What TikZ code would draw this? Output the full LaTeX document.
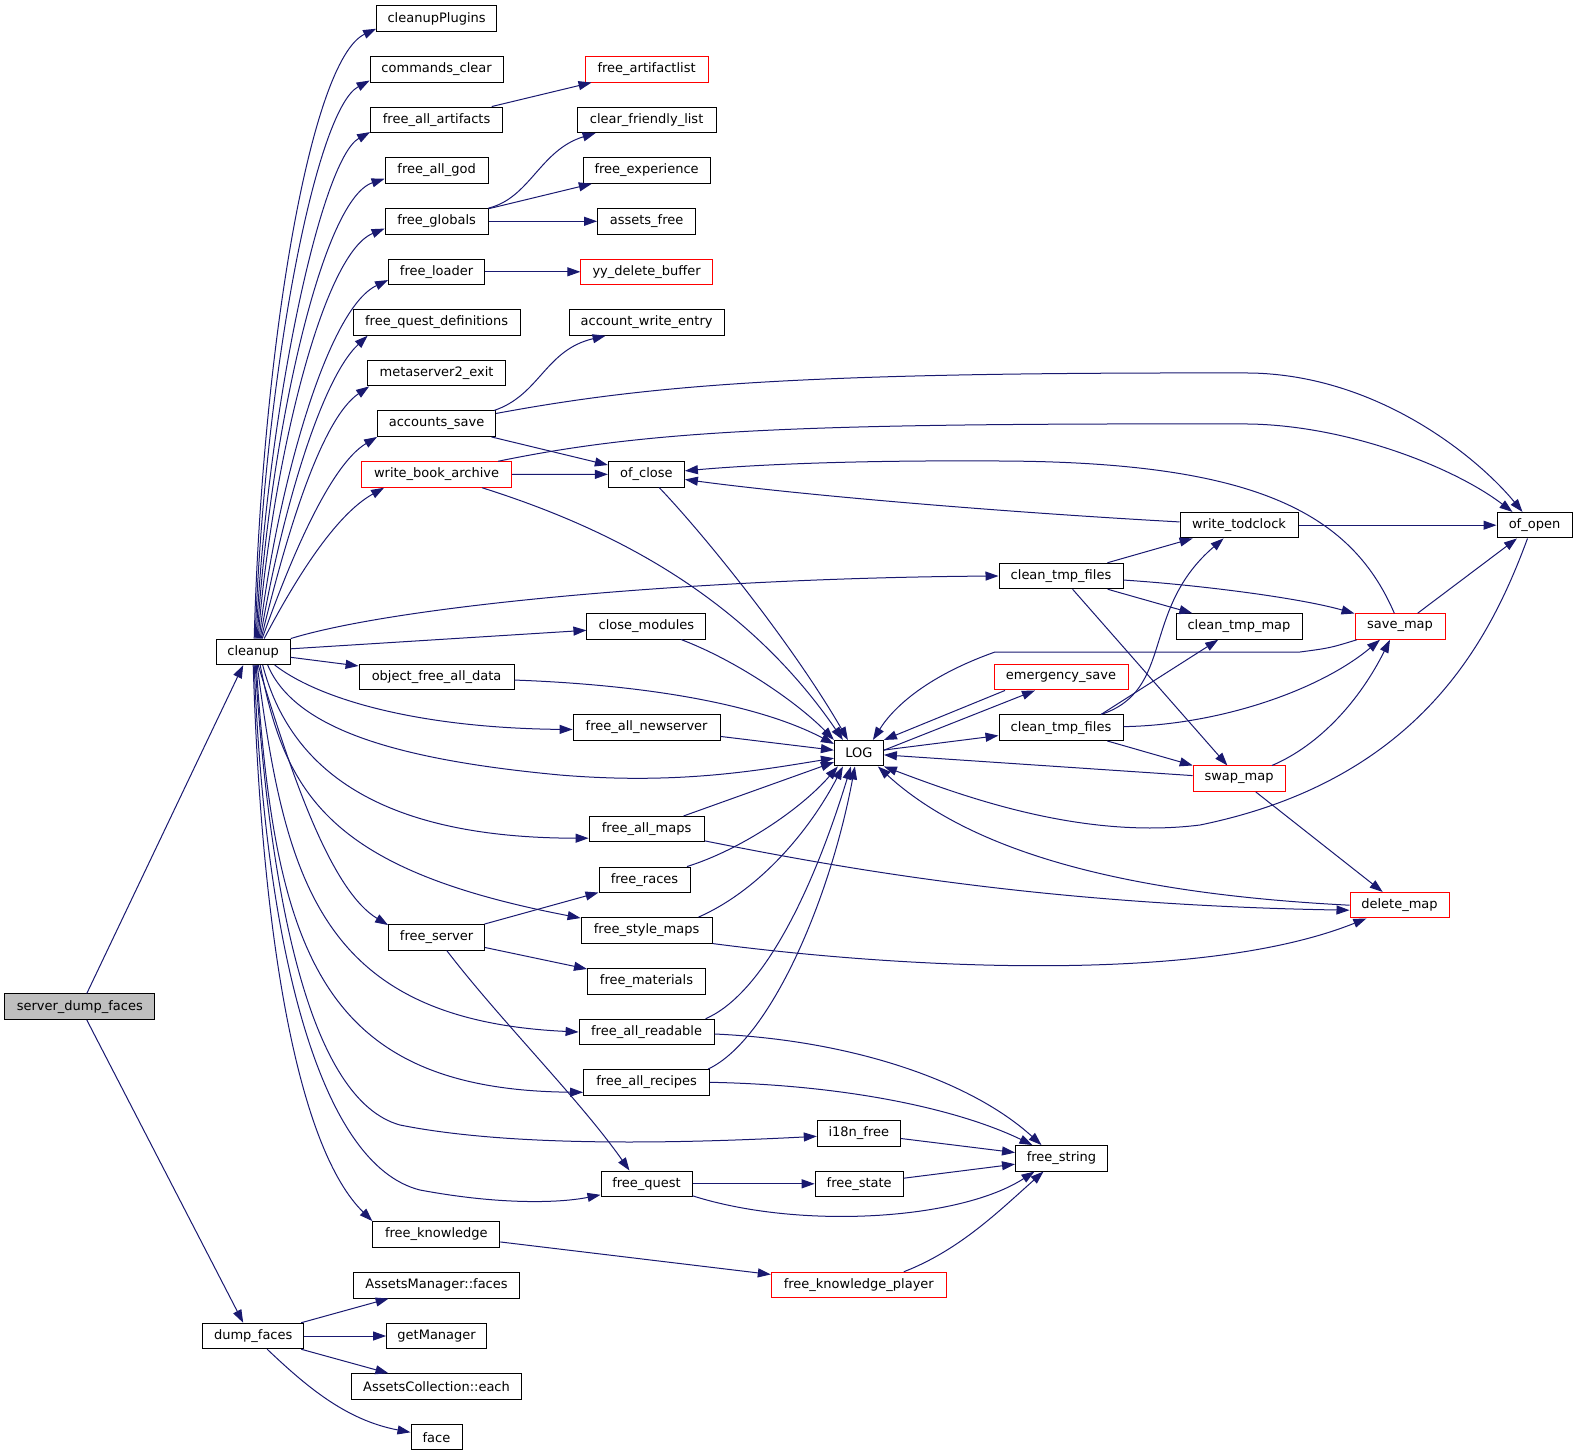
\documentclass[tikz,border=0pt]{standalone}
\usepackage{fontspec}
\setmainfont{DejaVu Sans}
\usetikzlibrary{arrows.meta}
\definecolor{edgec}{HTML}{191970}
\definecolor{rootfill}{HTML}{BFBFBF}
\begin{document}
\begin{tikzpicture}[x=1pt,y=-1pt,
  box/.style={draw=black, line width=1pt, fill=white, rectangle, inner sep=0pt,
    minimum height=25.5pt, font=\fontsize{13}{15.6}\selectfont, text=black},
  rbox/.style={box, draw=red},
  e/.style={draw=edgec, line width=1pt, -{Triangle[length=13pt,width=9pt]}}]
\useasboundingbox (0,0) rectangle (1577,1456);

% ---- nodes ----
\node[box, fill=rootfill, minimum width=150] (sdf) at (79.8,1006.7) {server\_dump\_faces};
\node[box, minimum width=74] (cleanup) at (253.2,651.8) {cleanup};
\node[box, minimum width=101] (dumpfaces) at (253.2,1336) {dump\_faces};

\node[box, minimum width=120] (cleanupPlugins) at (436.6,18.5) {cleanupPlugins};
\node[box, minimum width=133] (commandsClear) at (436.6,69.3) {commands\_clear};
\node[box, minimum width=132] (freeAllArtifacts) at (436.6,119.8) {free\_all\_artifacts};
\node[box, minimum width=103] (freeAllGod) at (436.6,170.5) {free\_all\_god};
\node[box, minimum width=103] (freeGlobals) at (436.6,221.3) {free\_globals};
\node[box, minimum width=96] (freeLoader) at (436.6,271.8) {free\_loader};
\node[box, minimum width=167] (freeQuestDefs) at (436.6,322.5) {free\_quest\_definitions};
\node[box, minimum width=138] (metaserver) at (436.6,373.2) {metaserver2\_exit};
\node[box, minimum width=118] (accountsSave) at (436.6,423.7) {accounts\_save};
\node[rbox, minimum width=150] (writeBook) at (436.6,474.5) {write\_book\_archive};
\node[box, minimum width=155] (objectFree) at (436.6,677.2) {object\_free\_all\_data};
\node[box, minimum width=96] (freeServer) at (436.6,937.3) {free\_server};
\node[box, minimum width=127] (freeKnowledge) at (436.3,1234.3) {free\_knowledge};
\node[box, minimum width=166] (amFaces) at (436.5,1285.3) {AssetsManager::faces};
\node[box, minimum width=100] (getManager) at (436.6,1336) {getManager};
\node[box, minimum width=170] (acEach) at (436.5,1386.5) {AssetsCollection::each};
\node[box, minimum width=51] (face) at (436.5,1437.2) {face};

\node[rbox, minimum width=123] (freeArtifactlist) at (646.6,69.3) {free\_artifactlist};
\node[box, minimum width=139] (clearFriendly) at (646.6,119.8) {clear\_friendly\_list};
\node[box, minimum width=127] (freeExperience) at (646.6,170.5) {free\_experience};
\node[box, minimum width=98] (assetsFree) at (646.6,221.3) {assets\_free};
\node[rbox, minimum width=131.5] (yyDelete) at (646.6,271.8) {yy\_delete\_buffer};
\node[box, minimum width=155] (accountWrite) at (646.6,322.5) {account\_write\_entry};
\node[box, minimum width=76] (ofClose) at (646.4,474.3) {of\_close};
\node[box, minimum width=119] (closeModules) at (646.4,626.3) {close\_modules};
\node[box, minimum width=147] (freeAllNewserver) at (646.6,727.5) {free\_all\_newserver};
\node[box, minimum width=115] (freeAllMaps) at (646.6,829.2) {free\_all\_maps};
\node[box, minimum width=91] (freeRaces) at (644.5,879.8) {free\_races};
\node[box, minimum width=131] (freeStyleMaps) at (646.6,930.3) {free\_style\_maps};
\node[box, minimum width=118] (freeMaterials) at (646.5,981.5) {free\_materials};
\node[box, minimum width=135] (freeAllReadable) at (646.6,1032) {free\_all\_readable};
\node[box, minimum width=126] (freeAllRecipes) at (646.6,1082.3) {free\_all\_recipes};
\node[box, minimum width=91] (freeQuest) at (646.5,1183.8) {free\_quest};

\node[box, minimum width=49] (LOG) at (858.9,753.2) {LOG};
\node[box, minimum width=83] (i18nFree) at (858.8,1133.3) {i18n\_free};
\node[box, minimum width=88] (freeState) at (859.2,1183.8) {free\_state};
\node[rbox, minimum width=175] (freeKnowledgePlayer) at (858.8,1285) {free\_knowledge\_player};

\node[box, minimum width=124] (cleanTmpA) at (1061,576) {clean\_tmp\_files};
\node[rbox, minimum width=134] (emergencySave) at (1061,677.2) {emergency\_save};
\node[box, minimum width=124] (cleanTmpB) at (1061,727.7) {clean\_tmp\_files};
\node[box, minimum width=92] (freeString) at (1061.5,1158.3) {free\_string};

\node[box, minimum width=118] (writeTodclock) at (1239,525.2) {write\_todclock};
\node[box, minimum width=126] (cleanTmpMap) at (1239,626.5) {clean\_tmp\_map};
\node[rbox, minimum width=92] (swapMap) at (1239,778.7) {swap\_map};

\node[rbox, minimum width=90] (saveMap) at (1400,626.5) {save\_map};
\node[rbox, minimum width=99] (deleteMap) at (1399.5,905.2) {delete\_map};
\node[box, minimum width=75] (ofOpen) at (1534.5,525.2) {of\_open};

% ---- edges ----
\draw[e] ([xshift=7]sdf.north) -- ([xshift=-10]cleanup.south);
\draw[e] ([xshift=7]sdf.south) -- ([xshift=-10]dumpfaces.north);

% cleanup upward bundle
\draw[e] ([xshift=1]cleanup.north) .. controls (262,350) and (310,60) .. ([yshift=3]cleanupPlugins.south west);
\draw[e] ([xshift=2]cleanup.north) .. controls (264,380) and (315,110) .. ([yshift=2]commandsClear.south west);
\draw[e] ([xshift=3]cleanup.north) .. controls (266,420) and (320,160) .. ([yshift=1]freeAllArtifacts.south west);
\draw[e] ([xshift=4]cleanup.north) .. controls (268,450) and (320,200) .. ([yshift=5]freeAllGod.south west);
\draw[e] ([xshift=5]cleanup.north) .. controls (270,480) and (320,255) .. ([yshift=6]freeGlobals.south west);
\draw[e] ([xshift=6]cleanup.north) .. controls (275,500) and (325,310) .. ([yshift=5]freeLoader.south west);
\draw[e] ([xshift=7]cleanup.north) .. controls (280,520) and (320,380) .. ([xshift=15]freeQuestDefs.south west);
\draw[e] ([xshift=8]cleanup.north) .. controls (285,540) and (320,420) .. ([xshift=2]metaserver.south west);
\draw[e] ([xshift=9]cleanup.north) .. controls (290,560) and (330,465) .. (accountsSave.south west);
\draw[e] ([xshift=11]cleanup.north) .. controls (295,580) and (335,515) .. ([xshift=23]writeBook.south west);

% cleanup right and downward
\draw[e] (cleanup.north east) .. controls (400,605) and (700,578) .. (cleanTmpA.west);
\draw[e] ([yshift=3]cleanup.east) -- ([yshift=-4]closeModules.west);
\draw[e] ([yshift=-5.5]cleanup.east) -- ([yshift=-2]objectFree.north west);
\draw[e] ([xshift=-16]cleanup.south east) .. controls (320,700) and (420,728) .. ([yshift=-2]freeAllNewserver.west);
\draw[e] ([xshift=-23]cleanup.south east) .. controls (295,730) and (400,760) .. (560,775) .. controls (680,785) and (760,770) .. ([yshift=-5]LOG.west);
\draw[e] ([xshift=-28]cleanup.south east) .. controls (290,770) and (380,838) .. ([yshift=-9]freeAllMaps.west);
\draw[e] ([xshift=7]cleanup.south) .. controls (285,795) and (330,870) .. ([yshift=-1]freeStyleMaps.north west);
\draw[e] ([xshift=5]cleanup.south) .. controls (290,770) and (330,890) .. ([yshift=-1]freeServer.north west);
\draw[e] ([xshift=4]cleanup.south) .. controls (285,880) and (320,1020) .. (freeAllReadable.west);
\draw[e] ([xshift=3]cleanup.south) .. controls (275,950) and (320,1090) .. ([yshift=-10]freeAllRecipes.west);
\draw[e] ([xshift=2]cleanup.south) .. controls (270,900) and (310,1100) .. (400,1125) .. controls (500,1145) and (650,1145) .. ([yshift=-3]i18nFree.west);
\draw[e] ([xshift=1]cleanup.south) .. controls (265,950) and (320,1165) .. (420,1190) .. controls (500,1205) and (560,1203) .. ([yshift=-11]freeQuest.west);
\draw[e] (cleanup.south) .. controls (262,950) and (300,1150) .. (freeKnowledge.north west);

% column 2 to column 3
\draw[e] (freeAllArtifacts) -- (freeArtifactlist);
\draw[e] (freeGlobals.north east) .. controls (530,198) and (540,150) .. ([xshift=19]clearFriendly.south west);
\draw[e] (freeGlobals) -- (freeExperience);
\draw[e] (freeGlobals) -- (assetsFree);
\draw[e] (freeLoader) -- (yyDelete);
\draw[e] ([xshift=-2]accountsSave.north east) .. controls (540,395) and (545,350) .. ([xshift=37]accountWrite.south west);
\draw[e] ([yshift=-3]accountsSave.north east) .. controls (650,385) and (800,372) .. (1250,373) .. controls (1380,375) and (1480,460) .. ([xshift=-12]ofOpen.north);
\draw[e] (accountsSave) -- (ofClose);
\draw[e] ([xshift=-14]writeBook.north east) .. controls (650,430) and (800,423) .. (1250,424) .. controls (1350,426) and (1455,468) .. ([xshift=-22]ofOpen.north);
\draw[e] (writeBook) -- (ofClose);
\draw[e] ([xshift=-30]writeBook.south east) .. controls (600,525) and (740,590) .. ([xshift=-16]LOG.north);
\draw[e] (ofClose) .. controls (700,530) and (790,640) .. ([xshift=-11]LOG.north);

% into LOG from the left
\draw[e] (closeModules) .. controls (740,662) and (800,705) .. (LOG.north west);
\draw[e] (objectFree) .. controls (650,685) and (760,705) .. ([yshift=-4]LOG.north west);
\draw[e] (freeAllNewserver) -- (LOG);
\draw[e] (freeAllMaps) -- (LOG);
\draw[e] (freeRaces) .. controls (740,850) and (800,810) .. ([xshift=-21]LOG.south);
\draw[e] ([xshift=52]freeStyleMaps.north) .. controls (760,890) and (810,830) .. ([xshift=-16]LOG.south);
\draw[e] ([xshift=-9]freeAllReadable.north east) .. controls (760,995) and (810,900) .. ([xshift=-8]LOG.south);
\draw[e] ([xshift=-2]freeAllRecipes.north east) .. controls (770,1040) and (830,900) .. ([xshift=-4]LOG.south);

% LOG right side
\draw[e] ([yshift=3]LOG.east) -- ([xshift=-26]emergencySave.south);
\draw[e] ([xshift=-56]emergencySave.south) -- (LOG.north east);
\draw[e] (LOG) -- (cleanTmpB);
\draw[e] (swapMap) -- (LOG);
\draw[e] (saveMap) .. controls (1330,648) .. (1300,652) -- (995,652) .. controls (930,675) and (895,705) .. ([xshift=14]LOG.north);
\draw[e] (deleteMap.west) .. controls (1150,895) and (980,860) .. ([xshift=19]LOG.south);
\draw[e] ([xshift=-7]ofOpen.south) .. controls (1490,640) and (1420,780) .. (1200,825) .. controls (1080,840) and (960,795) .. (LOG.south east);

% right cluster
\draw[e] (cleanTmpA) -- (writeTodclock);
\draw[e] (cleanTmpA) .. controls (1200,585) and (1300,598) .. (saveMap);
\draw[e] (cleanTmpA) -- (cleanTmpMap);
\draw[e] (cleanTmpA) -- (swapMap);
\draw[e] (writeTodclock) .. controls (1000,512) and (800,495) .. (ofClose);
\draw[e] (writeTodclock) -- (ofOpen);
\draw[e] (saveMap) .. controls (1350,510) and (1250,462) .. (1000,461) .. controls (850,460) and (750,465) .. (ofClose);
\draw[e] (saveMap) -- (ofOpen);
\draw[e] (cleanTmpB) .. controls (1175,690) and (1140,610) .. (writeTodclock);
\draw[e] ([xshift=40]cleanTmpB.north) -- (cleanTmpMap);
\draw[e] (cleanTmpB) .. controls (1220,725) and (1320,690) .. ([xshift=-20]saveMap.south);
\draw[e] (cleanTmpB) -- (swapMap);
\draw[e] ([xshift=33]swapMap.north) .. controls (1320,745) and (1360,700) .. ([xshift=-10]saveMap.south);
\draw[e] (swapMap) -- (deleteMap);
\draw[e] (freeAllMaps) .. controls (850,870) and (1050,905) .. ([yshift=-5]deleteMap.west);
\draw[e] (freeStyleMaps.south east) .. controls (900,968) and (1200,985) .. (deleteMap);

% lower part
\draw[e] (freeServer) -- (freeRaces);
\draw[e] (freeServer) -- (freeMaterials);
\draw[e] (freeServer) .. controls (500,1020) and (580,1100) .. ([xshift=-17]freeQuest.north);
\draw[e] ([yshift=-2]freeAllReadable.east) .. controls (850,1040) and (970,1080) .. ([xshift=-20]freeString.north);
\draw[e] (freeAllRecipes.east) .. controls (850,1085) and (960,1110) .. ([xshift=-29]freeString.north);
\draw[e] (i18nFree) -- (freeString);
\draw[e] (freeState) -- (freeString);
\draw[e] (freeQuest) -- (freeState);
\draw[e] ([yshift=-12]freeQuest.east) .. controls (800,1230) and (960,1220) .. ([xshift=-27]freeString.south);
\draw[e] ([xshift=45]freeKnowledgePlayer.north) .. controls (960,1250) and (1000,1210) .. ([xshift=-18]freeString.south);
\draw[e] (freeKnowledge) -- (freeKnowledgePlayer);
\draw[e] (dumpfaces) -- (amFaces);
\draw[e] (dumpfaces) -- (getManager);
\draw[e] (dumpfaces) -- (acEach);
\draw[e] (dumpfaces) .. controls (305,1385) and (345,1420) .. (face);
\end{tikzpicture}
\end{document}
